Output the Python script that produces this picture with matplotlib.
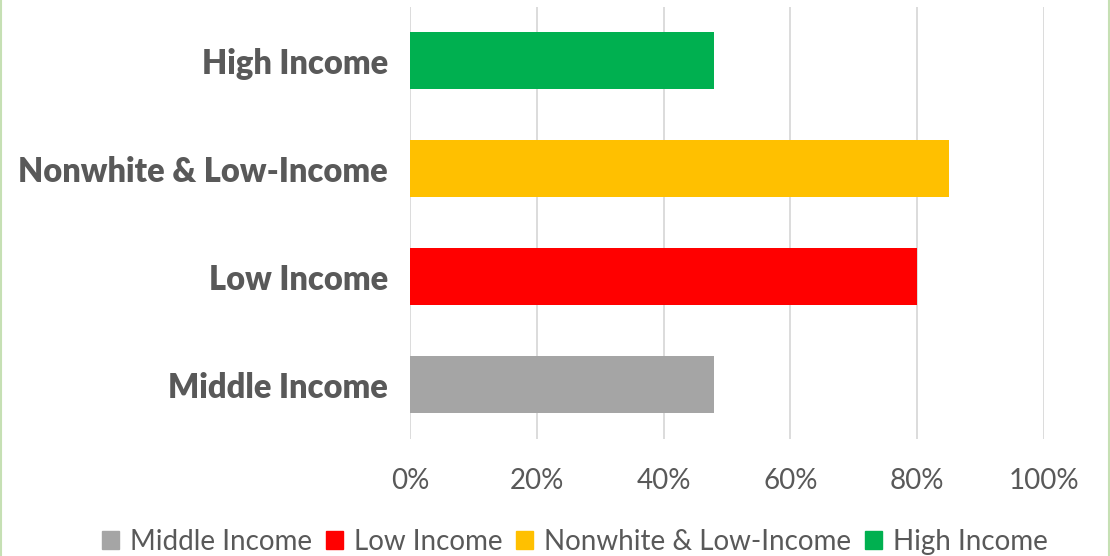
import matplotlib.pyplot as plt
from matplotlib.patches import Patch
from matplotlib.lines import Line2D

categories = ['Middle Income', 'Low Income', 'Nonwhite & Low-Income', 'High Income']
values = [48, 80, 85, 48]
colors = ['#a5a5a5', '#ff0000', '#ffc000', '#00b050']
xticks = [0, 20, 40, 60, 80, 100]
xtick_labels = ['0%', '20%', '40%', '60%', '80%', '100%']

plt.rcParams['font.family'] = ['Lato', 'DejaVu Sans']
txt = '#595959'

fig = plt.figure(figsize=(11.1, 5.56), dpi=100)
ax = fig.add_axes([0.3694, 0.2113, 0.5712, 0.777])

for i, (cat, v, c) in enumerate(zip(categories, values, colors)):
    ax.barh(i, v, height=0.53, color=c, label=cat, zorder=3)

ax.set_xlim(0, 100)
ax.set_ylim(-0.5, 3.5)
ax.set_xticks(xticks)
ax.set_xticklabels(xtick_labels, fontsize=20, color=txt)
ax.set_yticks(range(len(categories)))
ax.set_yticklabels(categories, fontsize=23.5, fontweight='heavy', color=txt)
ax.tick_params(length=0)
ax.tick_params(axis='x', pad=21)
ax.tick_params(axis='y', pad=16)
ax.grid(axis='x', color='#d9d9d9', linewidth=1.3, zorder=0)
for s in ax.spines.values():
    s.set_visible(False)

handles = [Patch(color=c) for c in colors]
fig.legend(handles, categories, loc='center', bbox_to_anchor=(575 / 1110, 1 - 542 / 556),
           ncol=4, frameon=False, fontsize=20, labelcolor=txt,
           handlelength=0.6, handleheight=0.6, handletextpad=0.4, columnspacing=0.5)

# light green chart frame at the edges
fig.add_artist(Line2D([0.001, 0.001], [0, 1], color='#c6e0b4', linewidth=1.5, transform=fig.transFigure))
fig.add_artist(Line2D([0.999, 0.999], [0, 1], color='#c6e0b4', linewidth=1.5, transform=fig.transFigure))

fig.savefig('out.png', dpi=100)
